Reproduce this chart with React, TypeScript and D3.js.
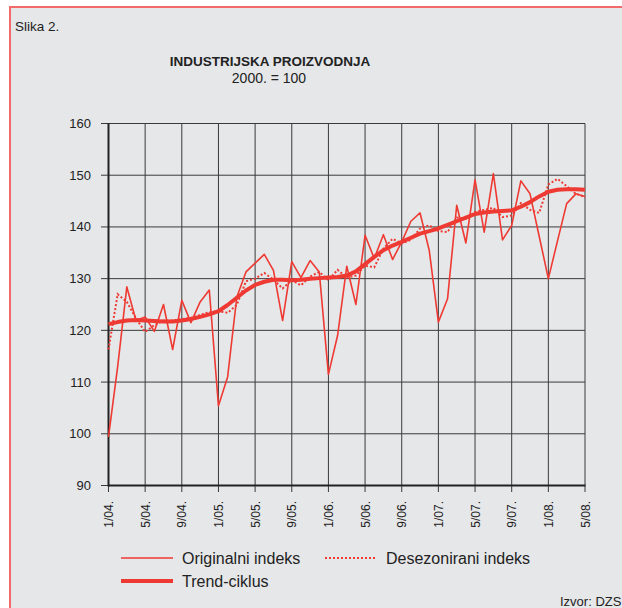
import * as d3 from "d3";
import React from "react";

// Industrijska proizvodnja, 2000. = 100, monthly 1/04 .. 5/08
const months = d3.range(53);
const tickMonths = d3.range(0, 53, 4);
const yTicks = [90, 100, 110, 120, 130, 140, 150, 160];

const original = [
  99.4, 113, 128.4, 121.9, 122.6, 119.8, 125.0, 116.3, 125.8, 121.5, 125.5, 127.8,
  105.4, 111.0, 126.4, 131.3, 133.0, 134.7, 131.6, 121.9, 133.3, 130.2, 133.5, 131.3,
  111.5, 119.0, 132.4, 125.0, 138.4, 133.9, 138.5, 133.7, 137.1, 141.1, 142.7, 135.5,
  121.6, 126.1, 144.2, 136.9, 149.1, 139.0, 150.3, 137.5, 140.3, 148.9, 146.4, 138.2,
  130.0, 137.3, 144.5, 146.4, 145.9,
];

const desez = [
  116.3, 127.0, 125.5, 122.3, 119.7, 121.0, 121.9, 121.9, 122.2, 122.4, 123.0, 123.5,
  123.7, 123.4, 124.9, 129.5, 130.0, 131.1, 129.8, 128.1, 129.7, 128.7, 130.4, 131.3,
  129.7, 131.7, 130.2, 130.6, 132.5, 132.2, 135.8, 137.7, 136.8, 137.5, 139.7, 140.3,
  139.2, 139.0, 141.8, 141.6, 142.9, 143.3, 143.7, 141.9, 142.2, 144.6, 143.3, 142.7,
  148.2, 149.3, 147.9, 146.4, 145.8,
];

const trend = [
  121.2, 121.6, 121.9, 122.0, 121.9, 121.8, 121.7, 121.7, 121.9, 122.2, 122.6, 123.1,
  123.7, 124.9, 126.3, 127.7, 128.8, 129.4, 129.8, 129.8, 129.7, 129.8, 130.0, 130.1,
  130.2, 130.3, 130.6, 131.4, 132.8, 134.2, 135.5, 136.4, 137.1, 137.9, 138.7, 139.2,
  139.7, 140.4, 141.1, 141.8, 142.5, 142.8, 143.0, 143.1, 143.2, 143.9, 144.8, 145.9,
  146.8, 147.2, 147.3, 147.3, 147.2,
];

const monthLabel = (i: number) => `${(i % 12) + 1}/0${4 + Math.floor(i / 12)}.`;

const RED = "#ee3a33";
const FONT = "'Liberation Sans', Arial, sans-serif";

export default function App() {
  const x = d3.scaleLinear().domain([0, 52]).range([108.5, 585]);
  const y = d3.scaleLinear().domain([90, 160]).range([485.5, 123.5]);

  const line = d3
    .line<number>()
    .x((d, i) => x(i))
    .y((d) => y(d));

  return (
    <svg
      width={622}
      height={608}
      style={{ position: "absolute", left: 0, top: 0, fontFamily: FONT }}
    >
      <rect x={0} y={0} width={622} height={608} fill="#fff" />
      <rect x={10} y={7} width={640} height={640} fill="#e6e7e9" stroke="#f26a6a" strokeWidth={2} />

      <text x={15} y={31} fontSize={13.5} fill="#222">Slika 2.</text>
      <text x={270} y={66} fontSize={13.5} fontWeight="bold" textAnchor="middle" fill="#222">
        INDUSTRIJSKA PROIZVODNJA
      </text>
      <text x={269} y={83} fontSize={14} textAnchor="middle" fill="#222">2000. = 100</text>

      {/* grid */}
      {yTicks.map((t) => (
        <g key={t}>
          <line x1={101} x2={585} y1={y(t)} y2={y(t)} stroke="#3a3a3a" strokeWidth={1} />
          <text x={91} y={y(t) + 4.5} fontSize={13} textAnchor="end" fill="#222">{t}</text>
        </g>
      ))}
      {tickMonths.map((m) => (
        <g key={m}>
          <line x1={x(m)} x2={x(m)} y1={123.5} y2={492} stroke="#3a3a3a" strokeWidth={1} />
          <text
            transform={`translate(${x(m) + 4.5},${501}) rotate(-90)`}
            fontSize={12}
            textAnchor="end"
            fill="#222"
          >
            {monthLabel(m)}
          </text>
        </g>
      ))}
      <line x1={108.5} x2={108.5} y1={123} y2={486.5} stroke="#222" strokeWidth={2} />
      <line x1={108} x2={585.5} y1={485.5} y2={485.5} stroke="#222" strokeWidth={2} />

      {/* series */}
      <path d={line(trend) ?? ""} fill="none" stroke={RED} strokeWidth={4} strokeLinejoin="round" />
      <path d={line(desez) ?? ""} fill="none" stroke={RED} strokeWidth={2} strokeDasharray="2,2" />
      <path d={line(original) ?? ""} fill="none" stroke={RED} strokeWidth={1.6} strokeLinejoin="round" />

      {/* legend */}
      <line x1={121} x2={173} y1={558} y2={558} stroke={RED} strokeWidth={1.6} />
      <text x={182} y={563.5} fontSize={16} fill="#222">Originalni indeks</text>
      <line x1={121} x2={173} y1={581} y2={581} stroke={RED} strokeWidth={4} />
      <text x={182} y={586.5} fontSize={16} fill="#222">Trend-ciklus</text>
      <line x1={325} x2={377} y1={558} y2={558} stroke={RED} strokeWidth={2} strokeDasharray="2,2" />
      <text x={386} y={563.5} fontSize={16} fill="#222">Desezonirani indeks</text>

      <text x={560} y={606} fontSize={13} fill="#222">Izvor: DZS</text>
    </svg>
  );
}
